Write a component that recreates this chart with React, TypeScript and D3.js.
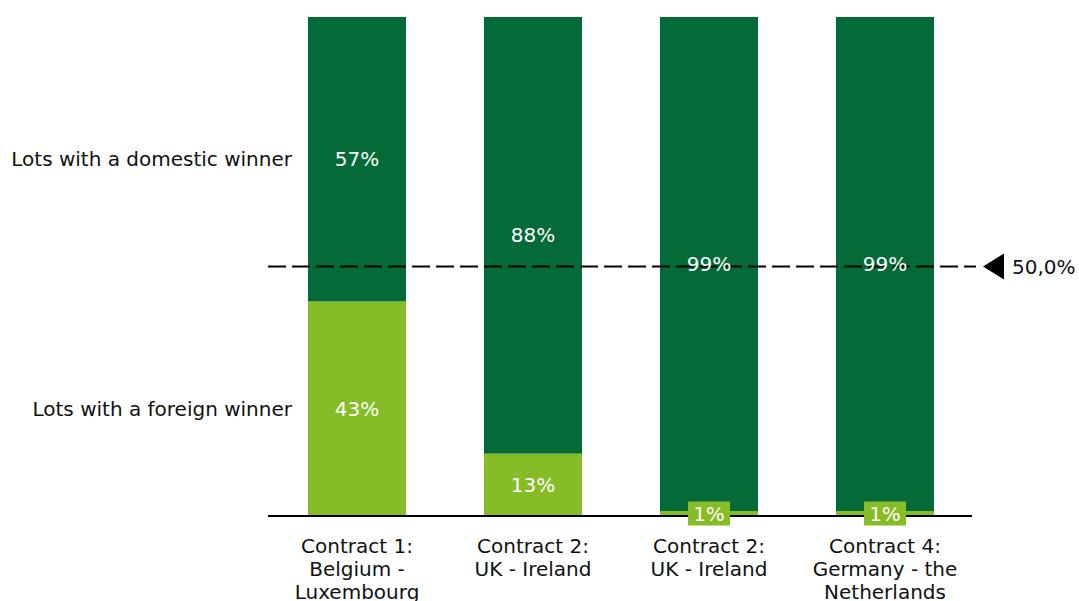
import React from "react";
import * as d3 from "d3";

const categories = [
  ["Contract 1:", "Belgium -", "Luxembourg"],
  ["Contract 2:", "UK - Ireland"],
  ["Contract 2:", "UK - Ireland"],
  ["Contract 4:", "Germany - the", "Netherlands"],
];
const foreign = [43, 12.5, 1, 1];
const domestic = [57, 87.5, 99, 99];
const seriesNames = ["Lots with a foreign winner", "Lots with a domestic winner"];
const threshold = 50;
const thresholdLabel = "50,0%";

const DARK = "#046a38";
const LIGHT = "#86bc25";
const FONT = "DejaVu Sans, Verdana, sans-serif";

export default function App() {
  const W = 1079, H = 601;
  const x = d3.scaleBand<number>().domain(d3.range(categories.length)).range([269, 973]).paddingInner(0.443).paddingOuter(0.2215);
  const y = d3.scaleLinear().domain([0, 100]).range([516, 17]);
  const bw = x.bandwidth();
  const fs = 20;

  return (
    <svg width={W} height={H} style={{ position: "absolute", left: 0, top: 0, fontFamily: FONT }}>
      {categories.map((c, i) => {
        const x0 = x(i)!;
        const f = foreign[i];
        const d = domestic[i];
        return (
          <g key={i}>
            <rect x={x0} y={y(f)} width={bw} height={y(0) - y(f)} fill={LIGHT} />
            <rect x={x0} y={y(f + d)} width={bw} height={y(f) - y(f + d)} fill={DARK} />
          </g>
        );
      })}
      <line x1={268} x2={972} y1={y(0)} y2={y(0)} stroke="#000" strokeWidth={2} />
      <line x1={268} x2={976} y1={y(threshold)} y2={y(threshold)} stroke="#000" strokeWidth={2} strokeDasharray="18 6" />
      <path d={`M983,${y(threshold)} L1004,${y(threshold) - 13} L1004,${y(threshold) + 13} Z`} fill="#000" />
      <text x={1012} y={y(threshold)} dominantBaseline="central" fontSize={fs} fill="#111">{thresholdLabel}</text>
      {categories.map((c, i) => {
        const x0 = x(i)!;
        const f = foreign[i];
        const d = domestic[i];
        const cx = x0 + bw / 2;
        const small = y(0) - y(f) < 25;
        return (
          <g key={i}>
            <text x={cx} y={(y(f) + y(f + d)) / 2} textAnchor="middle" dominantBaseline="central" fill="#fff" fontSize={fs}>
              {Math.round(d)}%
            </text>
            {small && (
              <rect x={cx - 21} y={(y(0) + y(f)) / 2 - 12} width={42} height={24} fill={LIGHT} />
            )}
            <text x={cx} y={(y(0) + y(f)) / 2} textAnchor="middle" dominantBaseline="central" fill="#fff" fontSize={fs}>
              {Math.round(f)}%
            </text>
            {c.map((line, j) => (
              <text key={j} x={cx} y={546 + j * 23} textAnchor="middle" dominantBaseline="central" fill="#111" fontSize={fs}>
                {line}
              </text>
            ))}
          </g>
        );
      })}
      <text x={292} y={(y(foreign[0]) + y(100)) / 2} textAnchor="end" dominantBaseline="central" fontSize={fs} fill="#111">{seriesNames[1]}</text>
      <text x={292} y={(y(0) + y(foreign[0])) / 2} textAnchor="end" dominantBaseline="central" fontSize={fs} fill="#111">{seriesNames[0]}</text>
    </svg>
  );
}
